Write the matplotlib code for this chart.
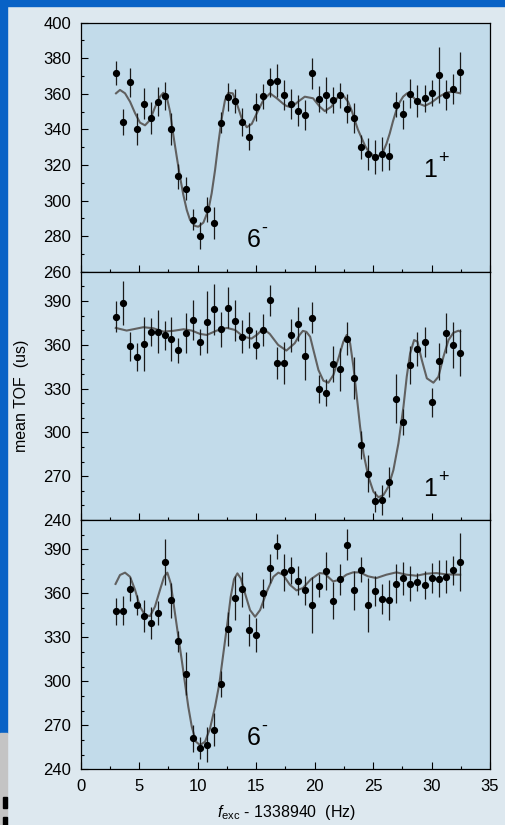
import matplotlib.pyplot as plt
from matplotlib.ticker import MultipleLocator
from matplotlib.patches import Rectangle

plt.rcParams['font.family'] = ['Liberation Sans', 'DejaVu Sans']
plt.rcParams['mathtext.fontset'] = 'custom'
plt.rcParams['mathtext.rm'] = 'Liberation Sans'
plt.rcParams['mathtext.it'] = 'Liberation Sans:italic'

# excitation frequency offsets (Hz), same for all three scans
freq = [3.0, 3.6, 4.2, 4.8, 5.4, 6.0, 6.6, 7.2, 7.75, 8.35,
        9.0, 9.6, 10.2, 10.8, 11.4, 12.0, 12.6, 13.2, 13.8, 14.4,
        15.0, 15.6, 16.2, 16.8, 17.4, 18.0, 18.6, 19.2, 19.8, 20.4,
        21.0, 21.6, 22.2, 22.8, 23.4, 24.0, 24.6, 25.2, 25.8, 26.4,
        27.0, 27.6, 28.2, 28.8, 29.4, 30.0, 30.6, 31.2, 31.8, 32.4]

# top scan
tof_top = [371.5, 344.2, 366.6, 340.4, 354.5, 346.4, 355.6, 358.8, 340.4, 313.6,
           306.7, 289.2, 280.2, 295.0, 287.4, 343.8, 358.2, 356.0, 344.2, 335.9,
           352.6, 358.6, 366.6, 367.4, 359.5, 354.3, 350.5, 348.1, 371.5, 356.9,
           359.3, 356.5, 359.1, 351.6, 346.4, 330.3, 326.2, 324.5, 326.2, 324.9,
           353.9, 348.6, 360.1, 356.0, 357.5, 360.6, 370.6, 359.3, 362.5, 372.3]
err_top = [6.7, 7.1, 8.1, 9.0, 8.8, 9.2, 8.2, 7.7, 9.0, 6.9,
           6.6, 6.0, 7.7, 7.1, 9.2, 6.0, 8.1, 6.9, 7.9, 7.5,
           7.7, 6.9, 8.1, 9.4, 8.4, 8.2, 8.6, 8.6, 8.6, 7.3,
           10.1, 7.5, 7.1, 8.1, 8.6, 6.7, 9.2, 9.6, 9.4, 7.7,
           7.1, 8.1, 8.1, 8.8, 7.7, 7.3, 15.6, 8.4, 8.4, 11.4]
fit_top_x = [3.02, 3.36, 3.79, 4.22, 4.65, 5.07, 5.5, 5.93, 6.35, 6.78,
             7.07, 7.35, 7.64, 7.92, 8.21, 8.49, 8.78, 9.07, 9.35, 9.78,
             10.06, 10.49, 10.92, 11.2, 11.49, 11.77, 12.06, 12.34, 12.63, 13.0,
             13.34, 13.77, 14.2, 14.63, 15.06, 15.62, 16.19, 16.77, 17.3, 17.59,
             18.02, 18.59, 19.16, 19.87, 20.44, 20.87, 21.44, 22.01, 22.38, 22.86,
             23.15, 23.43, 23.7, 24.0, 24.3, 24.57, 25.14, 25.5, 25.86, 26.15,
             26.43, 26.7, 27.0, 27.3, 27.57, 27.91, 28.43, 29.0, 29.42, 29.99,
             30.65, 31.28, 31.85, 32.45]
fit_top_y = [360.3, 362.2, 360.3, 355.6, 349.1, 343.8, 342.3, 345.3, 352.4, 358.4,
             360.6, 358.4, 350.0, 336.9, 324.7, 313.4, 303.1, 294.7, 289.1, 285.7,
             285.3, 287.6, 294.7, 304.1, 317.2, 332.2, 346.2, 356.5, 360.6, 360.3,
             354.7, 346.2, 341.2, 343.1, 349.1, 356.5, 360.3, 357.5, 354.5, 353.2,
             352.4, 355.6, 358.4, 357.5, 352.8, 350.3, 352.8, 358.4, 359.7, 355.6,
             351.0, 345.3, 340.0, 335.5, 331.0, 328.0, 324.7, 325.2, 327.5, 332.0,
             337.8, 344.5, 351.0, 355.5, 358.4, 360.3, 358.1, 354.3, 353.2, 355.1,
             358.4, 360.7, 361.2, 360.3]

# middle scan
tof_mid = [379.3, 388.4, 359.0, 351.9, 360.5, 368.8, 369.0, 366.5, 364.0, 356.2,
           367.9, 377.0, 362.1, 375.6, 384.3, 370.6, 385.4, 376.5, 365.6, 370.1,
           360.1, 370.1, 390.4, 347.3, 347.3, 366.5, 374.2, 352.3, 378.4, 329.6,
           327.2, 346.9, 343.2, 364.2, 337.3, 291.6, 271.7, 252.8, 253.7, 266.0,
           323.1, 307.1, 346.2, 357.1, 361.9, 320.6, 348.7, 368.1, 359.9, 354.6]
err_mid = [10.3, 15.0, 10.0, 9.6, 18.3, 9.4, 14.6, 9.8, 14.8, 8.7,
           13.5, 13.7, 8.9, 21.5, 17.4, 11.9, 13.9, 13.9, 11.6, 12.1,
           9.8, 10.7, 10.7, 11.0, 14.4, 11.2, 11.6, 16.7, 10.7, 9.4,
           9.4, 12.3, 14.8, 11.2, 14.6, 9.6, 12.8, 7.3, 10.3, 10.3,
           16.9, 9.1, 12.8, 11.9, 10.5, 9.8, 12.6, 13.7, 15.8, 16.0]
fit_mid_x = [3.0, 3.93, 4.5, 5.36, 6.2, 7.07, 7.9, 8.8, 9.5, 10.2,
             10.78, 11.64, 12.5, 13.2, 13.9, 14.6, 15.1, 15.6, 16.17, 16.88,
             17.59, 18.3, 18.7, 19.0, 19.3, 19.62, 19.9, 20.33, 20.75, 21.18,
             21.61, 22.04, 22.46, 22.75, 23.04, 23.32, 23.61, 23.89, 24.18, 24.6,
             25.03, 25.46, 25.89, 26.31, 26.74, 27.17, 27.6, 27.88, 28.17, 28.51,
             28.8, 29.17, 29.6, 30.16, 30.59, 31.02, 31.45, 31.87, 32.3, 32.45]
fit_mid_y = [371.5, 369.7, 370.6, 372.0, 371.3, 369.0, 369.5, 370.6, 369.7, 367.4,
             366.7, 369.7, 371.5, 370.1, 365.6, 364.2, 367.0, 371.0, 367.4, 359.9,
             356.0, 361.0, 366.5, 369.5, 368.8, 365.5, 356.4, 342.7, 335.4, 334.0,
             339.3, 350.7, 362.1, 366.7, 361.0, 345.0, 324.4, 303.9, 285.7, 269.7,
             259.4, 255.6, 257.1, 262.8, 274.2, 292.5, 317.6, 338.1, 354.1, 363.2,
             362.1, 349.5, 337.0, 334.0, 338.1, 351.8, 363.2, 368.2, 369.6, 369.0]

# bottom scan
tof_bot = [347.7, 348.1, 363.1, 352.0, 344.5, 339.7, 346.5, 381.4, 355.2, 327.2,
           305.1, 261.2, 254.6, 256.8, 267.1, 298.0, 335.6, 356.5, 362.7, 335.1,
           331.5, 360.0, 377.0, 392.0, 374.3, 375.7, 368.6, 362.0, 352.0, 365.2,
           375.0, 355.0, 369.5, 393.2, 362.0, 376.1, 352.0, 361.5, 356.1, 355.6,
           366.6, 370.2, 366.6, 367.9, 365.6, 370.2, 370.0, 371.3, 375.7, 381.4]
err_bot = [9.0, 10.0, 8.2, 7.1, 10.9, 10.9, 8.2, 15.7, 12.1, 7.1,
           14.6, 9.3, 7.3, 11.8, 11.4, 8.9, 11.4, 15.0, 11.8, 10.7,
           11.6, 10.0, 9.8, 8.7, 12.5, 9.1, 9.8, 9.8, 19.1, 8.0,
           13.0, 12.5, 10.5, 10.7, 13.4, 8.4, 18.2, 10.0, 10.5, 13.7,
           13.2, 11.4, 12.1, 6.1, 9.6, 10.2, 12.5, 11.2, 10.0, 20.0]
fit_bot_x = [2.98, 3.36, 3.79, 4.22, 4.65, 5.07, 5.5, 5.93, 6.35, 6.78,
             7.13, 7.41, 7.7, 7.98, 8.35, 8.64, 8.92, 9.2, 9.5, 9.86,
             10.2, 10.63, 11.06, 11.49, 11.86, 12.2, 12.54, 12.83, 13.11, 13.4,
             13.69, 14.05, 14.48, 14.91, 15.34, 15.91, 16.48, 16.9, 17.3, 17.88,
             18.45, 19.0, 19.7, 20.44, 20.87, 21.58, 22.15, 22.72, 23.29, 23.86,
             24.57, 25.28, 26.14, 27.0, 27.86, 28.71, 29.57, 30.43, 31.28, 32.45]
fit_bot_y = [366.4, 372.5, 374.1, 371.3, 362.3, 350.9, 345.2, 344.5, 350.9, 362.3,
             371.3, 374.1, 366.8, 350.9, 330.4, 314.5, 298.6, 282.7, 269.0, 258.8,
             256.5, 258.8, 267.9, 282.7, 298.6, 319.1, 339.5, 357.7, 369.6, 373.6,
             370.2, 360.0, 348.6, 344.0, 348.6, 361.1, 371.3, 374.1, 372.7, 365.9,
             362.0, 363.6, 369.7, 373.8, 373.4, 368.1, 369.3, 372.7, 374.3, 374.3,
             371.6, 370.4, 372.7, 374.3, 372.7, 372.0, 373.4, 373.8, 372.9, 372.7]

W, H = 506, 825
fig = plt.figure(figsize=(W / 100, H / 100), dpi=100, facecolor='#dde8ef')

# blue slide border + scrap of another slide at the bottom left
blue = '#0862c6'
fig.patches.append(Rectangle((0, 1 - 6 / H), 1, 6 / H, transform=fig.transFigure, color=blue))
fig.patches.append(Rectangle((0, 1 - 733 / H), 7 / W, 733 / H, transform=fig.transFigure, color=blue))
fig.patches.append(Rectangle((0, 0), 7 / W, (H - 733) / H, transform=fig.transFigure, color='#c4c4c4'))
fig.patches.append(Rectangle((3 / W, 1 - 808 / H), 4 / W, 11 / H, transform=fig.transFigure, color='black'))
fig.patches.append(Rectangle((3 / W, 0), 4 / W, 8 / H, transform=fig.transFigure, color='black'))

left = 80.7 / W
width = (490 - 80.7) / W
edges = [22.7, 271.7, 520, 769.3]

panels = [
    (tof_top, err_top, fit_top_x, fit_top_y, (260, 400), 20,
     [(14.2, 273.9, '6', '-'), (29.3, 313.1, '1', '+')]),
    (tof_mid, err_mid, fit_mid_x, fit_mid_y, (240, 410), 30,
     [(29.3, 256.4, '1', '+')]),
    (tof_bot, err_bot, fit_bot_x, fit_bot_y, (240, 410), 30,
     [(14.2, 256.6, '6', '-')]),
]

for i, (tof, err, fx, fy, ylim, step, labels) in enumerate(panels):
    bottom = 1 - edges[i + 1] / H
    height = (edges[i + 1] - edges[i]) / H
    ax = fig.add_axes([left, bottom, width, height], facecolor='#c2dbea')
    ax.plot(fx, fy, color='#606060', lw=1.5, zorder=2, solid_joinstyle='round')
    ax.errorbar(freq, tof, yerr=err, fmt='o', color='black', ms=4.2,
                elinewidth=0.9, ecolor='#1a1a1a', capsize=0, zorder=3)
    # spin / parity labels
    for lx, ly, num, sign in labels:
        ax.text(lx, ly, num, fontsize=18, va='baseline', ha='left')
        ax.annotate(sign, xy=(lx, ly), xytext=(10.5, 10), textcoords='offset points',
                    fontsize=13, va='baseline', ha='left')
    ax.set_xlim(0, 35)
    ax.set_ylim(*ylim)
    ax.xaxis.set_major_locator(MultipleLocator(5))
    ax.xaxis.set_minor_locator(MultipleLocator(2.5))
    ax.yaxis.set_major_locator(MultipleLocator(step))
    ax.yaxis.set_minor_locator(MultipleLocator(10))
    ax.tick_params(which='both', direction='in', top=False, right=False,
                   width=0.8, labelsize=12, pad=7)
    ax.tick_params(which='major', length=5)
    ax.tick_params(which='minor', length=2.5)
    for s in ax.spines.values():
        s.set_linewidth(0.9)
    if i < 2:
        ax.tick_params(labelbottom=False)

fig.text(22 / W, 1 - 396 / H, 'mean TOF  (us)', rotation=90, ha='center', va='center', fontsize=11.5)
fig.text(286 / W, 1 - 813 / H, r'$\mathit{f}_{\mathregular{exc}}$ - 1338940  (Hz)',
         ha='center', va='center', fontsize=11.5)

fig.savefig('out.png', dpi=100, facecolor=fig.get_facecolor())
